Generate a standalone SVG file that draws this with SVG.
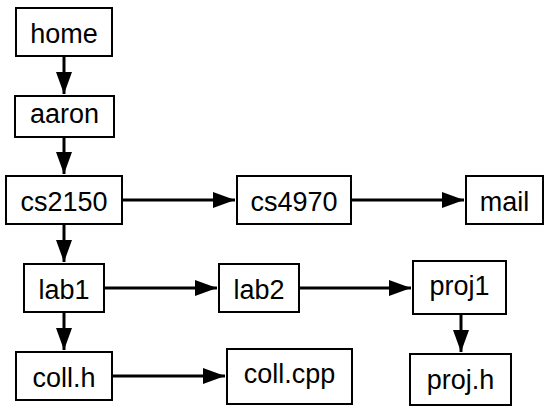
<svg xmlns="http://www.w3.org/2000/svg" width="545" height="408" viewBox="0 0 545 408">
  <defs>
    <marker id="head" markerUnits="userSpaceOnUse" markerWidth="23" markerHeight="17" refX="22" refY="8.5" orient="auto">
      <path d="M0,0.5 L22,8.5 L0,16.5 z" fill="#000"/>
    </marker>
    <style>
      .box { fill: #fff; stroke: #000; stroke-width: 2; }
      .lbl { font-family: "Liberation Sans", Arial, sans-serif; font-size: 27px; fill: #000; text-anchor: middle; }
      .edge { stroke: #000; stroke-width: 3; fill: none; marker-end: url(#head); }
    </style>
  </defs>
  <rect width="545" height="408" fill="#fff"/>

  <g id="edges">
    <line class="edge" x1="64" y1="56" x2="64" y2="94"/>
    <line class="edge" x1="64" y1="137" x2="64" y2="174"/>
    <line class="edge" x1="64" y1="224" x2="64" y2="262"/>
    <line class="edge" x1="64" y1="312" x2="64" y2="350"/>
    <line class="edge" x1="122" y1="200" x2="235" y2="200"/>
    <line class="edge" x1="351" y1="200" x2="464" y2="200"/>
    <line class="edge" x1="104" y1="288" x2="217" y2="288"/>
    <line class="edge" x1="299" y1="288" x2="411" y2="288"/>
    <line class="edge" x1="112" y1="376" x2="225" y2="376"/>
    <line class="edge" x1="461" y1="314" x2="461" y2="352"/>
  </g>

  <g id="home">
    <rect class="box" x="16" y="8" width="96" height="48"/>
    <text class="lbl" x="64" y="43">home</text>
  </g>
  <g id="aaron">
    <rect class="box" x="15" y="96" width="99" height="41"/>
    <text class="lbl" x="64.5" y="123">aaron</text>
  </g>
  <g id="cs2150">
    <rect class="box" x="6" y="176" width="116" height="48"/>
    <text class="lbl" x="64" y="211">cs2150</text>
  </g>
  <g id="cs4970">
    <rect class="box" x="237" y="176" width="114" height="48"/>
    <text class="lbl" x="294" y="211">cs4970</text>
  </g>
  <g id="mail">
    <rect class="box" x="466" y="176" width="77" height="48"/>
    <text class="lbl" x="504.5" y="211">mail</text>
  </g>
  <g id="lab1">
    <rect class="box" x="24" y="264" width="80" height="48"/>
    <text class="lbl" x="64" y="299">lab1</text>
  </g>
  <g id="lab2">
    <rect class="box" x="219" y="264" width="80" height="48"/>
    <text class="lbl" x="259" y="299">lab2</text>
  </g>
  <g id="proj1">
    <rect class="box" x="413" y="261" width="93" height="53"/>
    <text class="lbl" x="459.5" y="295">proj1</text>
  </g>
  <g id="coll_h">
    <rect class="box" x="16" y="352" width="96" height="48"/>
    <text class="lbl" x="64" y="387">coll.h</text>
  </g>
  <g id="coll_cpp">
    <rect class="box" x="227" y="349" width="125" height="55"/>
    <text class="lbl" x="289.5" y="383">coll.cpp</text>
  </g>
  <g id="proj_h">
    <rect class="box" x="410" y="354" width="101" height="51"/>
    <text class="lbl" x="460.5" y="389">proj.h</text>
  </g>
</svg>
